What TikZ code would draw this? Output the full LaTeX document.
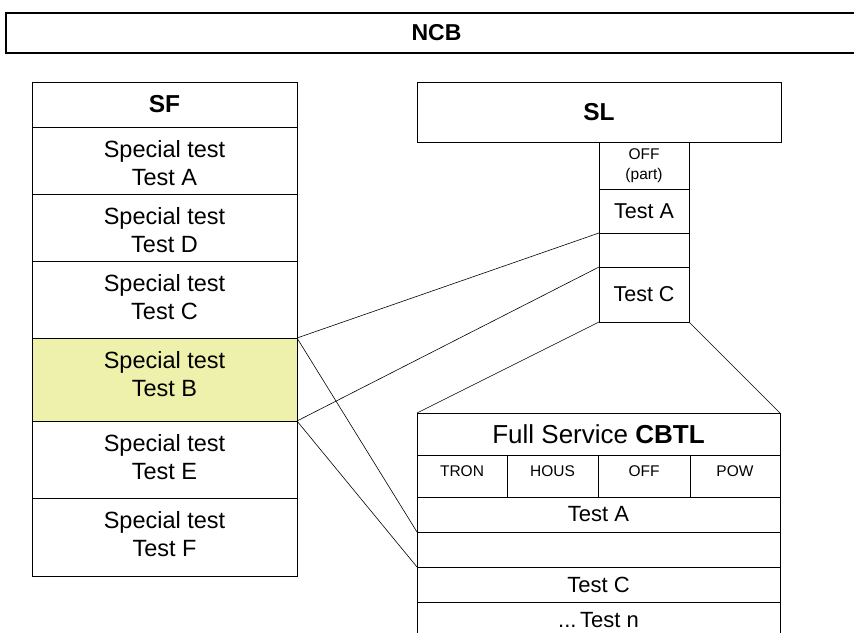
\documentclass[tikz,border=0pt]{standalone}
\usepackage{fontspec}
\setmainfont{Liberation Sans}
\usepackage{xcolor}
\definecolor{Black}{RGB}{0,0,0}
\definecolor{White}{RGB}{255,255,255}
\definecolor{Highlight}{RGB}{238,241,171}
\newcommand{\bannerfont}	{\bfseries\fontsize{23}{26}\selectfont}
\newcommand{\headfont}		{\bfseries\fontsize{24.5}{28}\selectfont}
\newcommand{\bodyfont}		{\fontsize{23.5}{28.5}\selectfont}
\newcommand{\slfont}		{\fontsize{21.5}{25}\selectfont}
\newcommand{\cbfont}		{\fontsize{22}{26}\selectfont}
\newcommand{\titlefont}		{\fontsize{26}{30}\selectfont}
\newcommand{\smallfont}		{\fontsize{15.5}{20}\selectfont}
\usepackage{tikz}

\tikzset{
	cell/.style={draw=Black, line width=0.9pt, anchor=north west, inner sep=0pt, outer sep=0pt, align=center},
	rowtext/.style={anchor=north, inner sep=0pt, align=center, font=\bodyfont},
	subtext/.style={anchor=north, inner sep=0pt, align=center, font=\smallfont},
	link/.style={draw=Black, line width=0.6pt}
}

\begin{document}
\begin{tikzpicture}[x=1pt, y=-1pt]
		
		\useasboundingbox (0,0) rectangle (854,632);
		\clip (0,0) rectangle (854,632);
		
		% Banner
		\node[cell, line width=1.3pt, minimum width=861pt, minimum height=40pt, font=\bannerfont] (ncb) at (6,13) {NCB};
		
		% SF column
		\node[cell, minimum width=265pt, minimum height=45pt, font=\headfont] (sf) at (32,82) {SF};
		\node[cell, minimum width=265pt, minimum height=67pt] (sfA) at (32,127) {};
		\node[cell, minimum width=265pt, minimum height=67pt] (sfD) at (32,194) {};
		\node[cell, minimum width=265pt, minimum height=77pt] (sfC) at (32,261) {};
		\node[cell, fill=Highlight, minimum width=265pt, minimum height=83pt] (sfB) at (32,338) {};
		\node[cell, minimum width=265pt, minimum height=77pt] (sfE) at (32,421) {};
		\node[cell, minimum width=265pt, minimum height=78pt] (sfF) at (32,498) {};
		
		% SF text
		\node[rowtext] (sfAtext) at ([yshift=-13pt]sfA.north) {Special test\\Test A};
		\node[rowtext] (sfDtext) at ([yshift=-13pt]sfD.north) {Special test\\Test D};
		\node[rowtext] (sfCtext) at ([yshift=-13pt]sfC.north) {Special test\\Test C};
		\node[rowtext] (sfBtext) at ([yshift=-13pt]sfB.north) {Special test\\Test B};
		\node[rowtext] (sfEtext) at ([yshift=-13pt]sfE.north) {Special test\\Test E};
		\node[rowtext] (sfFtext) at ([yshift=-13pt]sfF.north) {Special test\\Test F};
		
		% SL column
		\node[cell, minimum width=364pt, minimum height=60pt, font=\headfont] (sl) at (417,82) {SL};
		\node[cell, minimum width=90pt, minimum height=47pt, font=\smallfont] (slOff) at (599,142) {OFF\\(part)};
		\node[cell, minimum width=90pt, minimum height=44pt, font=\slfont] (slA) at (599,189) {Test A};
		\node[cell, minimum width=90pt, minimum height=34pt] (slE) at (599,233) {};
		\node[cell, minimum width=90pt, minimum height=55pt, font=\slfont] (slC) at (599,267) {Test C};
		
		% CBTL block
		\node[cell, minimum width=363pt, minimum height=42pt, font=\titlefont] (cb) at (417,413) {Full Service \textbf{CBTL}};
		\node[cell, minimum width=90pt, minimum height=42pt] (cbTron) at (417,455) {};
		\node[cell, minimum width=91pt, minimum height=42pt] (cbHous) at (507,455) {};
		\node[cell, minimum width=92pt, minimum height=42pt] (cbOff) at (598,455) {};
		\node[cell, minimum width=90pt, minimum height=42pt] (cbPow) at (690,455) {};
		\node[cell, minimum width=363pt, minimum height=35pt, font=\cbfont] (cbA) at (417,497) {Test A};
		\node[cell, minimum width=363pt, minimum height=35pt] (cbE) at (417,532) {};
		\node[cell, minimum width=363pt, minimum height=35pt, font=\cbfont] (cbC) at (417,567) {Test C};
		\node[cell, minimum width=363pt, minimum height=36pt, font=\cbfont] (cbN) at (417,602) {...\,Test n};
		
		% CBTL sub text
		\node[subtext] (cbTronText) at ([yshift=-10pt]cbTron.north) {TRON};
		\node[subtext] (cbHousText) at ([yshift=-10pt]cbHous.north) {HOUS};
		\node[subtext] (cbOffText) at ([yshift=-10pt]cbOff.north) {OFF};
		\node[subtext] (cbPowText) at ([yshift=-10pt]cbPow.north) {POW};
		
		% Links
		\draw[link] (sfB.north east) -- (slE.north west);
		\draw[link] (sfB.south east) -- (slE.south west);
		\draw[link] (sfB.north east) -- (cbE.north west);
		\draw[link] (sfB.south east) -- (cbE.south west);
		\draw[link] (slC.south west) -- (cb.north west);
		\draw[link] (slC.south east) -- (cb.north east);
		
	\end{tikzpicture}
\end{document}
